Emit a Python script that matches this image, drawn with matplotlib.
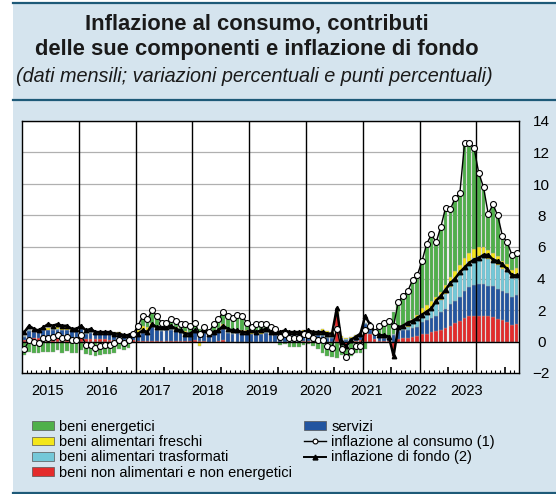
import numpy as np
import matplotlib
matplotlib.use('Agg')
import matplotlib.pyplot as plt
from matplotlib.lines import Line2D
from matplotlib.patches import Patch, Rectangle
import matplotlib.transforms as mtransforms

plt.rcParams['font.family'] = ['Liberation Sans', 'DejaVu Sans']

# Data: monthly, Jan 2015 - Sep 2023
years = ['2015', '2016', '2017', '2018', '2019', '2020', '2021', '2022', '2023']
year_label_pos = [4.95, 16.3, 27.5, 38.6, 50.2, 61.5, 72.3, 83.8, 93.5]

headline = [
    -0.5, 0.1, 0.0, -0.1, 0.2, 0.2, 0.3, 0.4, 0.2, 0.3, 0.1, 0.1,
    0.4, -0.2, -0.2, -0.4, -0.3, -0.2, -0.2, -0.1, 0.1, -0.1, 0.1, 0.5,
    1.0, 1.6, 1.4, 2.0, 1.6, 1.2, 1.2, 1.4, 1.3, 1.1, 1.1, 1.0,
    1.2, 0.5, 0.9, 0.6, 1.1, 1.4, 1.9, 1.6, 1.5, 1.7, 1.6, 1.2,
    0.9, 1.1, 1.1, 1.1, 0.9, 0.8, 0.3, 0.5, 0.2, 0.2, 0.2, 0.5,
    0.4, 0.2, 0.1, 0.1, -0.3, -0.4, 0.8, -0.5, -1.0, -0.6, -0.3, -0.3,
    0.7, 1.0, 0.6, 1.0, 1.2, 1.3, 1.0, 2.5, 2.9, 3.2, 3.9, 4.2,
    5.1, 6.2, 6.8, 6.3, 7.3, 8.5, 8.4, 9.1, 9.4, 12.6, 12.6, 12.3,
    10.7, 9.8, 8.1, 8.7, 8.0, 6.7, 6.3, 5.5, 5.6]

core = [
    0.6, 1.0, 0.8, 0.7, 0.9, 1.1, 1.0, 1.1, 1.0, 1.0, 0.8, 0.8,
    1.0, 0.7, 0.8, 0.6, 0.6, 0.6, 0.6, 0.5, 0.5, 0.4, 0.4, 0.5,
    0.5, 0.7, 0.6, 1.1, 0.9, 0.9, 0.9, 1.0, 0.8, 0.7, 0.5, 0.5,
    0.7, 0.5, 0.7, 0.5, 0.6, 0.7, 1.0, 0.8, 0.7, 0.7, 0.6, 0.6,
    0.7, 0.6, 0.7, 0.8, 0.6, 0.6, 0.6, 0.7, 0.6, 0.6, 0.6, 0.6,
    0.7, 0.6, 0.6, 0.6, 0.5, 0.5, 2.1, 0.0, -0.3, 0.1, 0.3, 0.5,
    1.6, 1.1, 0.6, 0.4, 0.4, 0.3, -0.9, 0.9, 1.0, 1.2, 1.3, 1.5,
    1.7, 1.9, 2.1, 2.6, 2.9, 3.3, 3.7, 4.0, 4.4, 4.7, 5.0, 5.2,
    5.3, 5.5, 5.5, 5.2, 5.1, 4.9, 4.6, 4.2, 4.2]

neig = [
    0.1, 0.2, 0.2, 0.2, 0.2, 0.2, 0.2, 0.2, 0.2, 0.2, 0.2, 0.2,
    0.3, 0.15, 0.15, 0.15, 0.15, 0.15, 0.1, 0.1, 0.1, 0.1, 0.1, 0.1,
    0.05, 0.05, 0.05, 0.05, 0.05, 0.05, 0.05, 0.05, 0.05, 0.05, 0.05, 0.05,
    0.1, 0.05, 0.05, 0.0, 0.0, 0.05, 0.1, 0.0, -0.05, -0.1, -0.1, -0.1,
    -0.05, -0.05, -0.05, -0.05, 0.0, 0.0, 0.0, -0.1, 0.0, 0.0, 0.0, 0.05,
    0.05, 0.05, 0.05, 0.05, 0.0, 0.0, 1.6, -0.2, -0.4, -0.05, 0.05, 0.1,
    0.8, 0.5, 0.15, 0.05, 0.05, 0.05, -0.9, 0.15, 0.2, 0.25, 0.3, 0.35,
    0.45, 0.5, 0.6, 0.65, 0.75, 0.85, 1.0, 1.15, 1.3, 1.5, 1.6, 1.65,
    1.65, 1.65, 1.6, 1.55, 1.45, 1.35, 1.25, 1.05, 1.1]

services = [
    0.2, 0.45, 0.4, 0.35, 0.5, 0.5, 0.55, 0.55, 0.5, 0.5, 0.45, 0.45,
    0.5, 0.35, 0.4, 0.3, 0.35, 0.35, 0.4, 0.4, 0.35, 0.25, 0.3, 0.3,
    0.45, 0.5, 0.55, 0.9, 0.65, 0.6, 0.65, 0.7, 0.6, 0.5, 0.45, 0.45,
    0.6, 0.45, 0.5, 0.35, 0.5, 0.55, 0.7, 0.55, 0.5, 0.55, 0.5, 0.5,
    0.45, 0.45, 0.45, 0.55, 0.4, 0.4, 0.35, 0.5, 0.4, 0.4, 0.4, 0.45,
    0.4, 0.35, 0.35, 0.3, 0.2, 0.25, 0.1, 0.2, 0.1, 0.2, 0.25, 0.25,
    0.3, 0.3, 0.25, 0.25, 0.15, 0.15, 0.4, 0.5, 0.5, 0.5, 0.55, 0.6,
    0.8, 0.85, 0.9, 1.0, 1.1, 1.2, 1.35, 1.45, 1.55, 1.7, 1.85, 1.95,
    2.0, 2.0, 1.95, 1.95, 1.9, 1.85, 1.85, 1.8, 1.85]

processed_food = [
    0.05, 0.05, 0.05, 0.05, 0.05, 0.05, 0.05, 0.05, 0.05, 0.05, 0.05, 0.05,
    0.05, 0.05, 0.05, 0.05, 0.05, 0.05, 0.05, 0.05, 0.05, 0.05, 0.05, 0.05,
    0.05, 0.05, 0.05, 0.05, 0.05, 0.05, 0.05, 0.05, 0.05, 0.05, 0.05, 0.1,
    0.1, 0.1, 0.1, 0.1, 0.1, 0.1, 0.1, 0.05, 0.05, 0.05, 0.05, 0.05,
    0.05, 0.05, 0.05, 0.05, 0.05, 0.05, 0.05, 0.05, 0.05, 0.05, 0.05, 0.05,
    0.05, 0.05, 0.05, 0.1, 0.1, 0.1, 0.05, 0.05, 0.05, 0.05, 0.05, 0.05,
    0.05, 0.05, 0.05, 0.05, 0.05, 0.05, 0.05, 0.1, 0.15, 0.2, 0.3, 0.4,
    0.45, 0.5, 0.6, 0.7, 0.8, 0.95, 1.1, 1.25, 1.4, 1.5, 1.6, 1.7,
    1.75, 1.75, 1.7, 1.6, 1.5, 1.4, 1.3, 1.2, 1.2]

fresh_food = [
    0.0, 0.05, 0.05, 0.05, 0.1, 0.1, 0.15, 0.15, 0.15, 0.15, 0.1, 0.1,
    0.1, 0.05, 0.05, 0.0, 0.0, 0.05, 0.05, 0.05, 0.1, 0.05, 0.05, 0.05,
    0.15, 0.4, 0.25, 0.2, 0.2, 0.15, 0.1, 0.15, 0.2, 0.15, 0.1, 0.0,
    0.0, -0.3, -0.05, 0.0, 0.05, 0.1, 0.2, 0.2, 0.2, 0.2, 0.15, 0.15,
    0.1, 0.15, 0.15, 0.1, 0.05, 0.1, 0.1, 0.1, 0.1, 0.1, 0.1, 0.15,
    0.05, 0.05, 0.1, 0.35, 0.35, 0.25, 0.1, 0.1, 0.05, 0.05, 0.05, 0.0,
    0.0, 0.05, 0.0, 0.0, 0.05, 0.0, 0.05, 0.15, 0.15, 0.2, 0.25, 0.35,
    0.4, 0.45, 0.45, 0.45, 0.5, 0.6, 0.65, 0.65, 0.6, 0.6, 0.6, 0.6,
    0.6, 0.6, 0.55, 0.55, 0.55, 0.5, 0.55, 0.5, 0.5]

energy = [
    -0.85, -0.65, -0.7, -0.75, -0.65, -0.65, -0.65, -0.55, -0.7, -0.6, -0.7, -0.7,
    -0.55, -0.8, -0.85, -0.9, -0.85, -0.8, -0.8, -0.7, -0.5, -0.55, -0.4, 0.0,
    0.3, 0.6, 0.5, 0.8, 0.65, 0.35, 0.35, 0.45, 0.4, 0.35, 0.45, 0.4,
    0.4, 0.2, 0.3, 0.15, 0.45, 0.6, 0.8, 0.8, 0.8, 1.0, 1.0, 0.6,
    0.35, 0.5, 0.5, 0.45, 0.4, 0.25, -0.2, -0.05, -0.35, -0.35, -0.35, -0.2,
    -0.15, -0.3, -0.45, -0.7, -0.95, -1.0, -1.05, -0.65, -0.8, -0.85, -0.7, -0.7,
    -0.45, 0.1, 0.15, 0.65, 0.9, 1.05, 1.4, 1.6, 1.9, 2.05, 2.5, 2.5,
    3.0, 3.9, 4.25, 3.5, 4.15, 4.9, 4.3, 4.6, 4.55, 7.3, 6.95, 6.4,
    4.7, 3.8, 2.3, 3.05, 2.6, 1.6, 1.35, 0.95, 0.95]

labels = ['beni energetici', 'beni alimentari freschi', 'beni alimentari trasformati',
          'beni non alimentari e non energetici', 'servizi',
          'inflazione al consumo (1)', 'inflazione di fondo (2)']

c_energy = '#4fb04a'
c_fresh = '#f3e61a'
c_proc = '#74c8d8'
c_neig = '#e42b2b'
c_serv = '#2255a0'
bg = '#d5e4ee'

fig = plt.figure(figsize=(5.56, 4.94), dpi=100)
fig.patch.set_facecolor('white')
# blue panel
fig.patches.append(Rectangle((13 / 556, 1 / 494), 1 - 13 / 556, 490 / 494,
                             transform=fig.transFigure, facecolor=bg,
                             edgecolor='none', zorder=-10))
for yy in [491 / 494, 394 / 494, 1.5 / 494]:
    fig.add_artist(Line2D([13 / 556, 1], [yy, yy], transform=fig.transFigure,
                          color='#1e5a78', lw=1.6))

fig.text(257 / 556, 1 - 24 / 494, 'Inflazione al consumo, contributi',
         ha='center', va='center', fontsize=15.8, fontweight='bold', color='#1a1a1a')
fig.text(257 / 556, 1 - 49 / 494, 'delle sue componenti e inflazione di fondo',
         ha='center', va='center', fontsize=15.8, fontweight='bold', color='#1a1a1a')
fig.text(254 / 556, 1 - 76 / 494,
         '(dati mensili; variazioni percentuali e punti percentuali)',
         ha='center', va='center', fontsize=14.3, style='italic', color='#1a1a1a')

ax = fig.add_axes([22 / 556, 121 / 494, 497 / 556, 252 / 494])
ax.set_facecolor('white')

x = np.arange(len(headline))
pos_base = np.zeros(len(x))
neg_base = np.zeros(len(x))
stack = [(neig, c_neig), (services, c_serv), (processed_food, c_proc),
         (fresh_food, c_fresh), (energy, c_energy)]
for vals, col in stack:
    v = np.array(vals, dtype=float)
    base = np.where(v >= 0, pos_base, neg_base)
    ax.bar(x, v, bottom=base, width=0.78, color=col, edgecolor='#9a9a9a',
           linewidth=0.25, zorder=2)
    pos_base += np.clip(v, 0, None)
    neg_base += np.clip(v, None, 0)

ax.plot(x, core, color='black', lw=1.8, marker='^', ms=3.2, zorder=5)
ax.plot(x, headline, color='black', lw=1.0, marker='o', ms=4.3,
        mfc='white', mec='black', mew=0.8, zorder=6)

ax.set_xlim(-0.5, len(headline) - 0.5)
ax.set_ylim(-2, 14)
ax.set_yticks(range(-2, 15, 2))
for yv in range(2, 15, 2):
    ax.axhline(yv, color='#b0b0b0', lw=0.9, zorder=1)
ax.axhline(0, color='black', lw=1.0, zorder=4)
for k in range(1, len(years)):
    ax.axvline(12 * k - 0.5, color='black', lw=1.0, zorder=4)

ax.yaxis.tick_right()
ax.tick_params(axis='y', length=0, pad=16, labelsize=11)
for t in ax.get_yticklabels():
    t.set_horizontalalignment('center')

ax.set_xticks([12 * k + 6 - 0.5 for k in range(len(years))])
ax.set_xticklabels([])
ax.set_xticks(x - 0.5, minor=True)
ax.tick_params(axis='x', which='major', direction='in', length=4, width=1.2)
ax.tick_params(axis='x', which='minor', direction='in', length=2, width=0.8)

trans = mtransforms.blended_transform_factory(ax.transData, ax.transAxes)
for pos, lab in zip(year_label_pos, years):
    ax.text(pos, -0.072, lab, transform=trans, ha='center', va='center', fontsize=10.5)

for s in ax.spines.values():
    s.set_linewidth(1.0)
    s.set_color('black')

handles = [Patch(facecolor=c_energy, edgecolor='#555555', lw=0.5),
           Patch(facecolor=c_fresh, edgecolor='#555555', lw=0.5),
           Patch(facecolor=c_proc, edgecolor='#555555', lw=0.5),
           Patch(facecolor=c_neig, edgecolor='#555555', lw=0.5),
           Patch(facecolor=c_serv, edgecolor='#555555', lw=0.5),
           Line2D([], [], color='black', lw=1.0, marker='o', ms=3.5,
                  mfc='white', mec='black', mew=0.8),
           Line2D([], [], color='black', lw=1.4, marker='^', ms=3.5)]
fig.legend(handles, labels, loc='upper left', bbox_to_anchor=(32 / 556, 1 - 420 / 494),
           ncol=2, frameon=False, fontsize=10.5, handlelength=1.5, handleheight=0.55,
           handletextpad=0.35, labelspacing=0.08, columnspacing=0.85, borderpad=0,
           borderaxespad=0)

fig.savefig('out.png', dpi=100, facecolor=fig.get_facecolor())
